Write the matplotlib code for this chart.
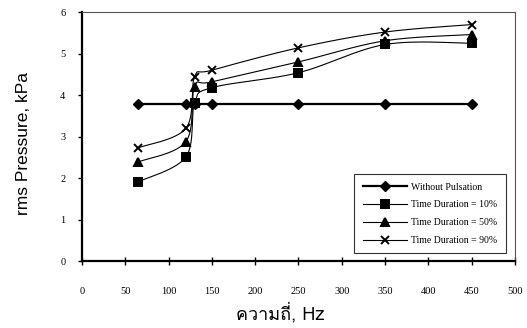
import numpy as np
import matplotlib
matplotlib.use("Agg")
import matplotlib.pyplot as plt
from matplotlib import font_manager
from matplotlib.ft2font import FT2Font

# ความถี่ (Hz)
freq = [65, 120, 130, 150, 250, 350, 450]

no_pulse = [3.78, 3.78, 3.78, 3.78, 3.78, 3.78, 3.78]
dur_10 = [1.91, 2.51, 3.80, 4.18, 4.54, 5.22, 5.25]
dur_50 = [2.39, 2.88, 4.20, 4.32, 4.80, 5.31, 5.46]
dur_90 = [2.73, 3.20, 4.44, 4.60, 5.14, 5.52, 5.70]

labels = ["Without Pulsation", "Time Duration = 10%",
          "Time Duration = 50%", "Time Duration = 90%"]


def find_thai_font():
    # pick the first installed font that has Thai glyphs
    for f in font_manager.fontManager.ttflist:
        try:
            cmap = FT2Font(f.fname).get_charmap()
        except Exception:
            continue
        if 0x0E04 in cmap and 0x0E35 in cmap:
            return f.name
    return None


def smooth(x, y, n=30):
    # Catmull-Rom style bezier smoothing through every point
    x = np.asarray(x, float)
    y = np.asarray(y, float)
    xs, ys = [], []
    for i in range(len(x) - 1):
        p0 = (x[i - 1], y[i - 1]) if i > 0 else (x[i], y[i])
        p1 = (x[i], y[i])
        p2 = (x[i + 1], y[i + 1])
        p3 = (x[i + 2], y[i + 2]) if i + 2 < len(x) else (x[i + 1], y[i + 1])
        c1 = (p1[0] + (p2[0] - p0[0]) / 6, p1[1] + (p2[1] - p0[1]) / 6)
        c2 = (p2[0] - (p3[0] - p1[0]) / 6, p2[1] - (p3[1] - p1[1]) / 6)
        t = np.linspace(0, 1, n)
        for k in range(2):
            pts = [p1[k], c1[k], c2[k], p2[k]]
            b = ((1 - t) ** 3 * pts[0] + 3 * (1 - t) ** 2 * t * pts[1]
                 + 3 * (1 - t) * t ** 2 * pts[2] + t ** 3 * pts[3])
            (xs if k == 0 else ys).extend(b)
    return np.array(xs), np.array(ys)


thai = find_thai_font()
xfam = [thai, "Liberation Sans", "DejaVu Sans"] if thai else ["Liberation Sans", "DejaVu Sans"]

fig = plt.figure(figsize=(5.27, 3.28), dpi=100)
ax = fig.add_axes([0.1556, 0.204, 0.8214, 0.759])

ax.plot(freq, no_pulse, color="black", lw=1.6, marker="D", ms=4.8, label=labels[0])

series = [(dur_10, "s", 5.6, labels[1]), (dur_50, "^", 6.0, labels[2]), (dur_90, "x", 6.2, labels[3])]
for vals, mk, ms, lab in series:
    sx, sy = smooth(freq, vals)
    ax.plot(sx, sy, color="black", lw=0.8)
    ax.plot(freq, vals, ls="none", marker=mk, ms=ms, color="black", mew=1.4)
    ax.plot([], [], color="black", lw=0.8, marker=mk, ms=ms, mew=1.4, label=lab)

ax.set_xlim(0, 500)
ax.set_ylim(0, 6)
ax.set_xticks(range(0, 501, 50))
ax.set_yticks(range(0, 7))

for s in ["left", "bottom"]:
    ax.spines[s].set_linewidth(1.6)
for s in ["top", "right"]:
    ax.spines[s].set_linewidth(0.8)
    ax.spines[s].set_color("#555555")

ax.tick_params(axis="x", direction="inout", length=6, width=1, pad=16)
ax.tick_params(axis="y", direction="out", length=3, width=1, pad=9)
for lbl in ax.get_xticklabels() + ax.get_yticklabels():
    lbl.set_family("Liberation Serif")
    lbl.set_fontsize(7.5)

ax.set_xlabel("ความถี่, Hz", family=xfam, fontsize=13)
ax.xaxis.set_label_coords(0.457, -0.165)
ax.set_ylabel("rms Pressure, kPa", family=["Liberation Sans"], fontsize=12.5)
ax.yaxis.set_label_coords(-0.118, 0.472)

leg = ax.legend(loc="lower right", bbox_to_anchor=(0.99, 0.012), prop={"family": "Liberation Serif", "size": 7},
                frameon=True, fancybox=False, edgecolor="black", handlelength=4.6,
                handletextpad=0.4, borderpad=0.85, labelspacing=0.9)
leg.get_frame().set_linewidth(0.8)

fig.savefig("out.png", dpi=100)
